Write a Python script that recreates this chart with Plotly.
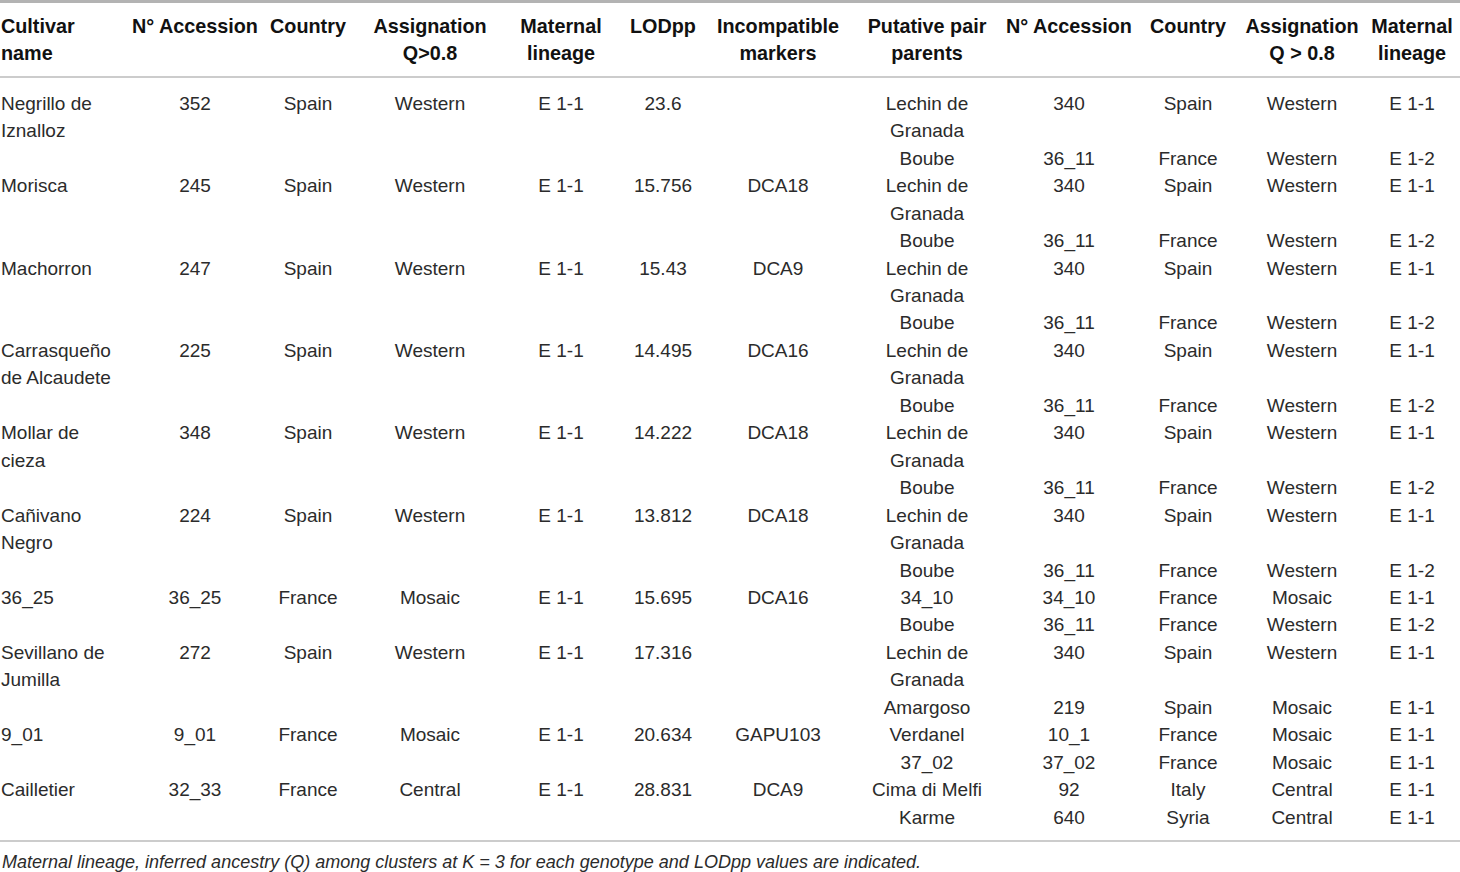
import textwrap
import plotly.graph_objects as go

# ---- table data -------------------------------------------------------------
HEADERS = [
    "Cultivar\nname", "N° Accession", "Country", "Assignation\nQ>0.8",
    "Maternal\nlineage", "LODpp", "Incompatible\nmarkers", "Putative pair\nparents",
    "N° Accession", "Country", "Assignation\nQ > 0.8", "Maternal\nlineage",
]

cultivar = [
    "Negrillo de Iznalloz", "Morisca", "Machorron", "Carrasqueño de Alcaudete",
    "Mollar de cieza", "Cañivano Negro", "36_25", "Sevillano de Jumilla",
    "9_01", "Cailletier",
]
accession = ["352", "245", "247", "225", "348", "224", "36_25", "272", "9_01", "32_33"]
country = ["Spain", "Spain", "Spain", "Spain", "Spain", "Spain", "France", "Spain",
           "France", "France"]
assignation = ["Western", "Western", "Western", "Western", "Western", "Western",
               "Mosaic", "Western", "Mosaic", "Central"]
maternal = ["E 1-1"] * 10
lodpp = [23.6, 15.756, 15.43, 14.495, 14.222, 13.812, 15.695, 17.316, 20.634, 28.831]
markers = ["", "DCA18", "DCA9", "DCA16", "DCA18", "DCA18", "DCA16", "", "GAPU103", "DCA9"]

# putative parents, two per cultivar (index into cultivar list)
parent_of = [0, 0, 1, 1, 2, 2, 3, 3, 4, 4, 5, 5, 6, 6, 7, 7, 8, 8, 9, 9]
parent = [
    "Lechin de Granada", "Boube", "Lechin de Granada", "Boube",
    "Lechin de Granada", "Boube", "Lechin de Granada", "Boube",
    "Lechin de Granada", "Boube", "Lechin de Granada", "Boube",
    "34_10", "Boube", "Lechin de Granada", "Amargoso",
    "Verdanel", "37_02", "Cima di Melfi", "Karme",
]
parent_accession = {
    "Lechin de Granada": "340", "Boube": "36_11", "34_10": "34_10", "Amargoso": "219",
    "Verdanel": "10_1", "37_02": "37_02", "Cima di Melfi": "92", "Karme": "640",
}
parent_country = {
    "Lechin de Granada": "Spain", "Boube": "France", "34_10": "France", "Amargoso": "Spain",
    "Verdanel": "France", "37_02": "France", "Cima di Melfi": "Italy", "Karme": "Syria",
}
parent_assignation = {
    "Lechin de Granada": "Western", "Boube": "Western", "34_10": "Mosaic", "Amargoso": "Mosaic",
    "Verdanel": "Mosaic", "37_02": "Mosaic", "Cima di Melfi": "Central", "Karme": "Central",
}
parent_maternal = {
    "Lechin de Granada": "E 1-1", "Boube": "E 1-2", "34_10": "E 1-1", "Amargoso": "E 1-1",
    "Verdanel": "E 1-1", "37_02": "E 1-1", "Cima di Melfi": "E 1-1", "Karme": "E 1-1",
}

CAPTION = ("Maternal lineage, inferred ancestry (Q) among clusters at K = 3 for each "
           "genotype and LODpp values are indicated.")

# ---- layout constants -------------------------------------------------------
W, H = 1460, 872
COL_X = [1, 195, 308, 430, 561, 663, 778, 927, 1069, 1188, 1302, 1412]
FIRST_LINE_PX = 105
LINE_PX = 27.46
TEXT = "#2b2b2b"
BODY_FONT = dict(family="Liberation Sans, Arial", size=19, color=TEXT)
HEAD_FONT = dict(family="Liberation Sans, Arial", size=19.8, color="#111111", weight="bold")


def px_to_line(p):
    return (p - FIRST_LINE_PX) / LINE_PX


# ---- lay out lines -----------------------------------------------------------
cols = [dict(x=[], y=[], t=[]) for _ in COL_X]


def put(col, line, txt):
    cols[col]["x"].append(COL_X[col])
    cols[col]["y"].append(line)
    cols[col]["t"].append(txt)


line = 0
for i, name in enumerate(cultivar):
    start = line
    for k, part in enumerate(textwrap.wrap(name, 12)):
        put(0, start + k, part)
    put(1, start, accession[i])
    put(2, start, country[i])
    put(3, start, assignation[i])
    put(4, start, maternal[i])
    put(5, start, str(lodpp[i]))
    if markers[i]:
        put(6, start, markers[i])
    for j, p in enumerate(parent):
        if parent_of[j] != i:
            continue
        put(8, line, parent_accession[p])
        put(9, line, parent_country[p])
        put(10, line, parent_assignation[p])
        put(11, line, parent_maternal[p])
        for part in textwrap.wrap(p, 13):
            put(7, line, part)
            line += 1

fig = go.Figure()
for c, d in enumerate(cols):
    fig.add_trace(go.Scatter(
        x=d["x"], y=d["y"], text=d["t"], mode="text",
        textposition="middle right" if c == 0 else "middle center",
        textfont=BODY_FONT, hoverinfo="skip", showlegend=False,
    ))

# header
hx, hy, ht = [], [], []
for c, h in enumerate(HEADERS):
    for k, part in enumerate(h.split("\n")):
        hx.append(COL_X[c])
        hy.append(px_to_line(28 + 27 * k))
        ht.append(part)
fig.add_trace(go.Scatter(
    x=hx[:2], y=hy[:2], text=ht[:2], mode="text", textposition="middle right",
    textfont=HEAD_FONT, hoverinfo="skip", showlegend=False,
))
fig.add_trace(go.Scatter(
    x=hx[2:], y=hy[2:], text=ht[2:], mode="text", textposition="middle center",
    textfont=HEAD_FONT, hoverinfo="skip", showlegend=False,
))

# rules
for p, w, col in [(1.5, 3, "#b3b3b3"), (77, 1.2, "#9a9a9a"), (841, 1.2, "#9a9a9a")]:
    fig.add_shape(type="line", xref="paper", x0=0, x1=1, yref="y",
                  y0=px_to_line(p), y1=px_to_line(p), line=dict(color=col, width=w))

fig.add_annotation(
    text=CAPTION, x=0, xref="paper", y=px_to_line(862), yref="y",
    xanchor="left", yanchor="middle", showarrow=False,
    font=dict(family="Liberation Sans, Arial", size=18, color=TEXT, style="italic"),
)

fig.update_layout(
    width=W, height=H, margin=dict(l=0, r=0, t=0, b=0),
    paper_bgcolor="white", plot_bgcolor="white", hovermode=False,
    xaxis=dict(range=[0, W], visible=False, fixedrange=True),
    yaxis=dict(range=[px_to_line(H), px_to_line(0)], visible=False, fixedrange=True),
)

# drop the page's default 8px body margin so the figure sits at the window corner
fig.write_html(
    "out.html",
    config={"displayModeBar": False},
    post_script="document.body.style.margin='0';document.body.style.overflow='hidden';",
)
